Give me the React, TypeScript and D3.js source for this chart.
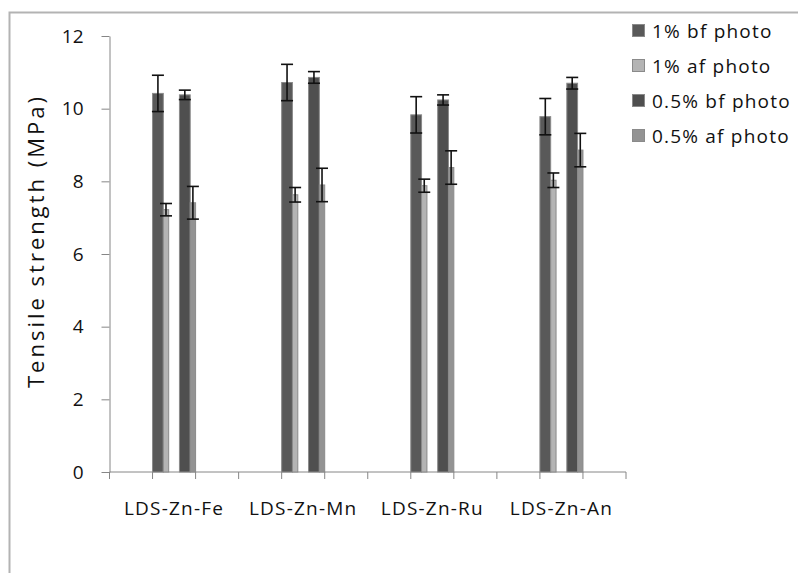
import { useEffect, useRef } from 'react';
import * as d3 from 'd3';

// groups on the category axis, each one sits on its own band of the 12-slot axis
const groups = ['LDS-Zn-Fe', 'LDS-Zn-Mn', 'LDS-Zn-Ru', 'LDS-Zn-An'];
const groupSlot = [1, 4, 7, 10];
const slotCount = 12;

const seriesNames = ['1% bf photo', '1% af photo', '0.5% bf photo', '0.5% af photo'];
const seriesColors = ['#595959', '#b4b4b4', '#4f4f4f', '#939393'];

const bf1 = [10.42, 10.72, 9.83, 9.78];
const bf1Err = [0.5, 0.5, 0.5, 0.5];
const af1 = [7.22, 7.63, 7.88, 8.03];
const af1Err = [0.17, 0.2, 0.18, 0.2];
const bf05 = [10.38, 10.86, 10.24, 10.7];
const bf05Err = [0.13, 0.16, 0.14, 0.16];
const af05 = [7.41, 7.9, 8.38, 8.86];
const af05Err = [0.45, 0.46, 0.46, 0.46];

const yTicks = [0, 2, 4, 6, 8, 10, 12];
const yTitle = 'Tensile strength (MPa)';

const App = () => {
    const svgRef = useRef(null);

    useEffect(() => {
        const width = 798;
        const height = 573;
        const font = "'Open Sans', sans-serif";
        const axisColor = '#868686';
        const textColor = '#111';

        d3.select(svgRef.current).selectAll('*').remove();
        const svg = d3.select(svgRef.current)
            .attr('width', width)
            .attr('height', height);

        // chart area frame, runs off the right and bottom of the picture
        svg.append('rect')
            .attr('x', 9.5).attr('y', 12.5)
            .attr('width', 900).attr('height', 700)
            .attr('fill', 'none')
            .attr('stroke', '#b3b3b3')
            .attr('stroke-width', 2);

        const slots = d3.range(slotCount);
        const x = d3.scaleBand().domain(slots).range([109.5, 626]).padding(0);
        const y = d3.scaleLinear().domain([0, 12]).range([472, 36]);

        // each band split in 8 sub slots: bf bars take two, af bars one, a gap of two in the middle
        const inner = d3.scaleBand().domain(d3.range(8)).range([0, x.bandwidth()]);
        const subStart = [0, 2, 5, 7];
        const subSpan = [2, 1, 2, 1];

        // y axis
        const yAxis = svg.append('g')
            .attr('transform', `translate(${x.range()[0]},0)`)
            .call(d3.axisLeft(y).tickValues(yTicks).tickSize(8).tickSizeOuter(0).tickPadding(18));
        yAxis.select('.domain').attr('stroke', axisColor);
        yAxis.selectAll('.tick line').attr('stroke', axisColor);
        yAxis.selectAll('.tick text')
            .attr('font-family', font)
            .attr('font-size', 19)
            .attr('fill', textColor);

        // y title
        svg.append('text')
            .attr('transform', `translate(44, ${241}) rotate(-90)`)
            .attr('text-anchor', 'middle')
            .attr('font-family', font)
            .attr('font-size', 22)
            .attr('letter-spacing', 3)
            .attr('fill', textColor)
            .text(yTitle);

        // x axis with ticks on band boundaries
        const xAxis = svg.append('g');
        xAxis.append('line')
            .attr('x1', x.range()[0]).attr('x2', x.range()[1])
            .attr('y1', y(0)).attr('y2', y(0))
            .attr('stroke', axisColor);
        const bounds = slots.map(s => x(s)).concat([x.range()[1]]);
        xAxis.selectAll('line.tk')
            .data(bounds)
            .enter()
            .append('line')
            .attr('class', 'tk')
            .attr('x1', d => d).attr('x2', d => d)
            .attr('y1', y(0)).attr('y2', y(0) + 7)
            .attr('stroke', axisColor);
        xAxis.selectAll('text')
            .data(groups)
            .enter()
            .append('text')
            .attr('x', (d, i) => x(groupSlot[i]) + x.bandwidth() / 2)
            .attr('y', y(0) + 43)
            .attr('text-anchor', 'middle')
            .attr('font-family', font)
            .attr('font-size', 19)
            .attr('letter-spacing', 1.2)
            .attr('fill', textColor)
            .text(d => d);

        const series = [
            { values: bf1, errs: bf1Err },
            { values: af1, errs: af1Err },
            { values: bf05, errs: bf05Err },
            { values: af05, errs: af05Err },
        ];

        const barX = (si, i) => x(groupSlot[i]) + inner(subStart[si]);
        const barW = si => inner.bandwidth() * subSpan[si];

        const bars = svg.append('g');
        series.forEach((s, si) => {
            bars.append('g')
                .selectAll('rect')
                .data(s.values)
                .enter()
                .append('rect')
                .attr('x', (d, i) => barX(si, i))
                .attr('y', d => y(d))
                .attr('width', barW(si))
                .attr('height', d => y(0) - y(d))
                .attr('fill', seriesColors[si])
                .attr('stroke', '#8a8a8a')
                .attr('stroke-width', 1);
        });

        // error bars drawn over the bars
        const errG = svg.append('g')
            .attr('stroke', '#111')
            .attr('stroke-width', 1.6);
        series.forEach((s, si) => {
            s.values.forEach((v, i) => {
                const cx = barX(si, i) + barW(si) / 2;
                const lo = y(v - s.errs[i]);
                const hi = y(v + s.errs[i]);
                errG.append('line').attr('x1', cx).attr('x2', cx).attr('y1', lo).attr('y2', hi);
                errG.append('line').attr('x1', cx - 6).attr('x2', cx + 6).attr('y1', lo).attr('y2', lo);
                errG.append('line').attr('x1', cx - 6).attr('x2', cx + 6).attr('y1', hi).attr('y2', hi);
            });
        });

        // legend
        const legend = svg.append('g').attr('transform', 'translate(632, 31)');
        const item = legend.selectAll('g')
            .data(seriesNames)
            .enter()
            .append('g')
            .attr('transform', (d, i) => `translate(0, ${i * 35})`);
        item.append('rect')
            .attr('x', 0.5).attr('y', -6.5)
            .attr('width', 12).attr('height', 12)
            .attr('fill', (d, i) => seriesColors[i])
            .attr('stroke', '#8a8a8a');
        item.append('text')
            .attr('x', 20)
            .attr('y', 6.5)
            .attr('font-family', font)
            .attr('font-size', 19)
            .attr('letter-spacing', 1.2)
            .attr('fill', textColor)
            .text(d => d);
    }, []);

    return (
        <svg ref={svgRef} style={{ position: 'absolute', left: 0, top: 0 }} />
    );
};

export default App;
